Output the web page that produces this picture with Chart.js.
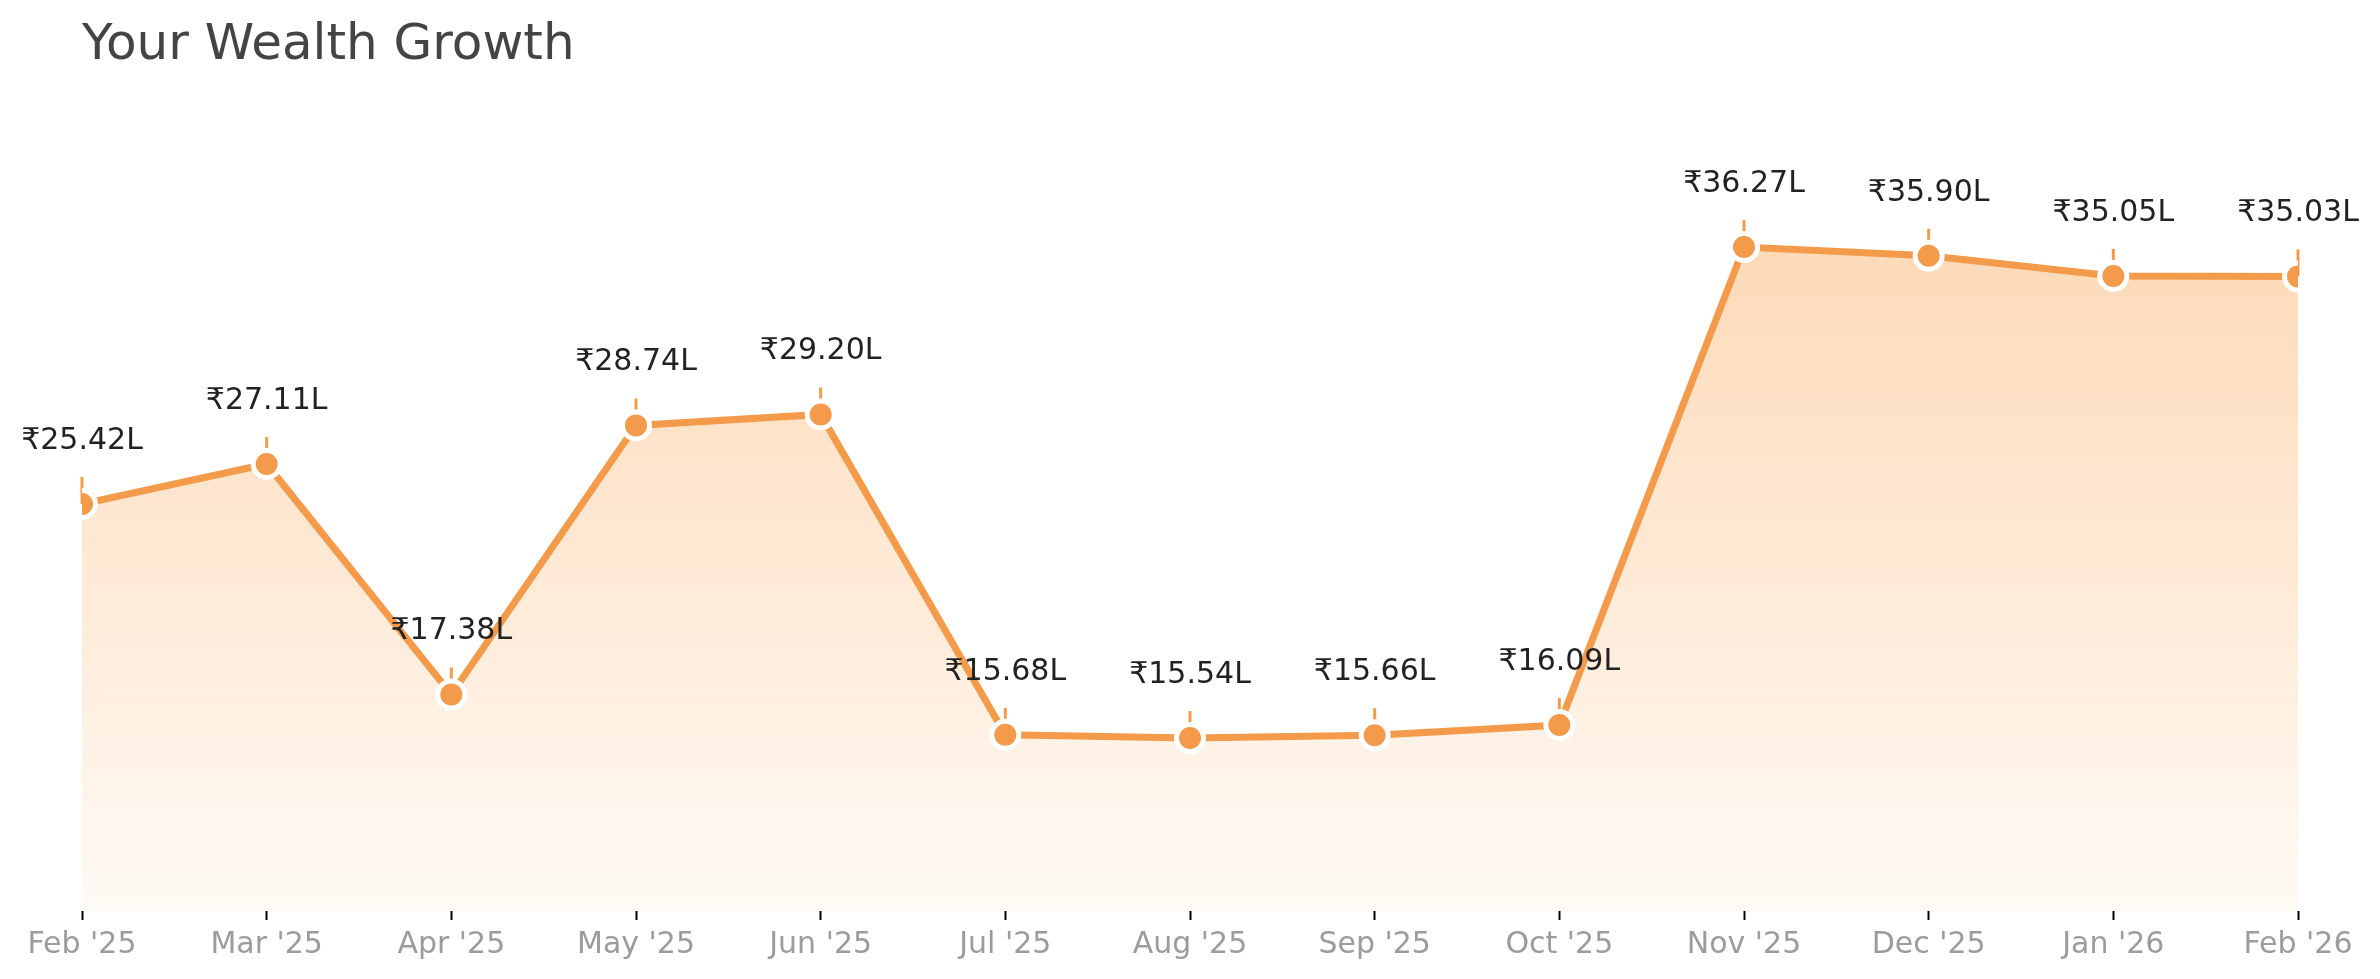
<!DOCTYPE html>
<html>
<head>
<meta charset="utf-8">
<script src="https://cdn.jsdelivr.net/npm/chart.js@4"></script>
<style>
  html, body { margin: 0; padding: 0; background: #fff; }
  #wrap { width: 2380px; height: 979px; }
</style>
</head>
<body>
<div id="wrap"><canvas id="wealthChart" width="2380" height="979"></canvas></div>
<script>
  // values in lakh rupees
  const months = ["Feb '25", "Mar '25", "Apr '25", "May '25", "Jun '25", "Jul '25", "Aug '25",
                  "Sep '25", "Oct '25", "Nov '25", "Dec '25", "Jan '26", "Feb '26"];
  const wealth = [25.42, 27.11, 17.38, 28.74, 29.20, 15.68, 15.54, 15.66, 16.09, 36.27, 35.90, 35.05, 35.03];
  const yMin = 8.24;
  const yMax = 41.21;

  const orange = '#F39A4B';

  // little stem above each point plus the value label
  const pointLabels = {
    id: 'pointLabels',
    beforeDatasetsDraw(chart) {
      const ctx = chart.ctx;
      const meta = chart.getDatasetMeta(0);
      ctx.save();
      ctx.strokeStyle = orange;
      ctx.lineWidth = 3;
      meta.data.forEach(pt => {
        ctx.beginPath();
        ctx.moveTo(pt.x, pt.y - 27);
        ctx.lineTo(pt.x, pt.y);
        ctx.stroke();
      });
      ctx.restore();
    },
    afterDatasetsDraw(chart) {
      const ctx = chart.ctx;
      const meta = chart.getDatasetMeta(0);
      ctx.save();
      ctx.font = '30px "DejaVu Sans"';
      ctx.fillStyle = '#222222';
      ctx.textAlign = 'center';
      ctx.textBaseline = 'alphabetic';
      meta.data.forEach((pt, i) => {
        ctx.fillText('₹' + wealth[i].toFixed(2) + 'L', pt.x, pt.y - 55);
      });
      ctx.restore();
    }
  };

  function areaGradient(context) {
    const chart = context.chart;
    const { ctx, chartArea, scales } = chart;
    if (!chartArea || !scales.y) return 'rgb(254,235,215)';
    const top = scales.y.getPixelForValue(Math.max(...wealth));
    const bottom = chartArea.bottom;
    if (!isFinite(top) || !isFinite(bottom) || bottom <= top) return 'rgb(254,235,215)';
    const g = ctx.createLinearGradient(0, top, 0, bottom);
    g.addColorStop(0, 'rgb(253,218,184)');
    g.addColorStop(1, 'rgb(255,250,245)');
    return g;
  }

  const ctx = document.getElementById('wealthChart').getContext('2d');
  new Chart(ctx, {
    type: 'line',
    data: {
      labels: months,
      datasets: [{
        data: wealth,
        borderColor: orange,
        borderWidth: 7,
        backgroundColor: areaGradient,
        fill: 'start',
        tension: 0,
        pointRadius: 13.5,
        pointBorderWidth: 5,
        pointBackgroundColor: orange,
        pointBorderColor: '#ffffff',
        pointHoverRadius: 13.5,
        clip: 0
      }]
    },
    options: {
      responsive: false,
      devicePixelRatio: 1,
      animation: false,
      layout: { padding: { left: 82, right: 82, top: 0, bottom: 0 } },
      plugins: {
        legend: { display: false },
        tooltip: { enabled: false },
        title: {
          display: true,
          text: 'Your Wealth Growth',
          align: 'start',
          color: '#444444',
          font: { family: '"DejaVu Sans"', size: 50, weight: 'normal', lineHeight: 1.2 },
          padding: { top: 16, bottom: 54 }
        }
      },
      scales: {
        x: {
          offset: false,
          border: { display: false },
          grid: {
            display: true,
            drawOnChartArea: false,
            drawTicks: true,
            tickLength: 9,
            tickWidth: 2,
            tickColor: '#000000'
          },
          ticks: {
            color: '#9c9c9c',
            padding: 7,
            maxRotation: 0,
            autoSkip: false,
            font: { family: '"DejaVu Sans"', size: 30 }
          },
          afterFit(scale) { scale.height = 68; }
        },
        y: {
          display: false,
          min: yMin,
          max: yMax
        }
      }
    },
    plugins: [pointLabels]
  });
</script>
</body>
</html>
